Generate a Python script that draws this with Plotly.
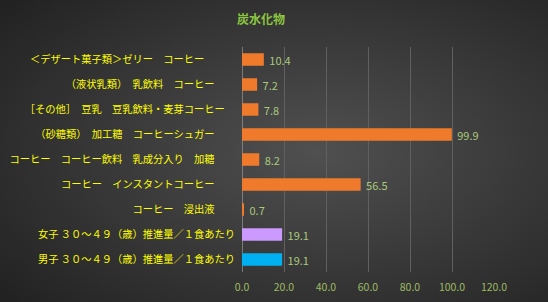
import base64
import plotly.graph_objects as go

categories = [
    "＜デザート菓子類＞ゼリー　コーヒー",
    "（液状乳類）　乳飲料　コーヒー",
    "［その他］　豆乳　豆乳飲料・麦芽コーヒー",
    "（砂糖類）　加工糖　コーヒーシュガー",
    "コーヒー　コーヒー飲料　乳成分入り　加糖",
    "コーヒー　インスタントコーヒー",
    "コーヒー　浸出液",
    "女子 ３０～４９（歳）推進量／１食あたり",
    "男子 ３０～４９（歳）推進量／１食あたり",
]
tick_labels = [
    "＜デザート菓子類＞ゼリー　コーヒー　　　",
    "（液状乳類）　乳飲料　コーヒー　　",
    "［その他］　豆乳　豆乳飲料・麦芽コーヒー　",
    "（砂糖類）　加工糖　コーヒーシュガー　　",
    "コーヒー　コーヒー飲料　乳成分入り　加糖　　",
    "コーヒー　インスタントコーヒー　　",
    "コーヒー　浸出液　　",
    "女子 ３０～４９（歳）推進量／１食あたり",
    "男子 ３０～４９（歳）推進量／１食あたり",
]
values = [10.4, 7.2, 7.8, 99.9, 8.2, 56.5, 0.7, 19.1, 19.1]
bar_colors = ["#f07a2c"] * 7 + ["#cc99ff", "#00b0f0"]
x_ticks = [0, 20, 40, 60, 80, 100, 120]

W, H = 548, 302
L, R, T, B = 242, 54, 47, 30
pw, ph = W - L - R, H - T - B

svg = (
    f'<svg xmlns="http://www.w3.org/2000/svg" width="{W}" height="{H}">'
    '<defs><radialGradient id="g" cx="58%" cy="50%" r="75%">'
    '<stop offset="0" stop-color="#505050"/><stop offset="1" stop-color="#222222"/>'
    '</radialGradient></defs><rect width="100%" height="100%" fill="url(#g)"/></svg>'
)
src = "data:image/svg+xml;base64," + base64.b64encode(svg.encode()).decode()

font_jp = "Noto Sans CJK JP"

fig = go.Figure(
    go.Bar(
        x=values,
        y=categories,
        orientation="h",
        marker=dict(color=bar_colors, line=dict(width=0)),
        text=values,
        texttemplate="\u00a0%{x:.1f}",
        textposition="outside",
        constraintext="none",
        textfont=dict(color="#a9c97c", size=11, family=font_jp),
        cliponaxis=False,
        width=0.5,
    )
)

fig.update_layout(
    width=W,
    height=H,
    margin=dict(l=L, r=R, t=T, b=B, autoexpand=False),
    paper_bgcolor="#383838",
    plot_bgcolor="rgba(0,0,0,0)",
    showlegend=False,
    title=dict(
        text="<b>炭水化物</b>",
        x=261 / W,
        xanchor="center",
        y=1 - 20 / H,
        yanchor="middle",
        font=dict(color="#8cc63f", size=12, family=font_jp),
    ),
    images=[
        dict(
            source=src,
            xref="paper",
            yref="paper",
            x=-L / pw,
            y=1 + T / ph,
            sizex=W / pw,
            sizey=H / ph,
            sizing="stretch",
            layer="below",
            xanchor="left",
            yanchor="top",
        )
    ],
    xaxis=dict(
        range=[0, 120],
        tickvals=x_ticks,
        tickformat=".1f",
        showgrid=True,
        gridcolor="#606060",
        gridwidth=1,
        zeroline=False,
        showline=False,
        ticks="",
        ticklabelstandoff=7,
        automargin=False,
        tickfont=dict(color="#9dbb61", size=10.5, family=font_jp),
        fixedrange=True,
    ),
    yaxis=dict(
        autorange="reversed",
        tickvals=categories,
        ticktext=tick_labels,
        showgrid=False,
        zeroline=False,
        showline=False,
        ticks="",
        ticklabelstandoff=6,
        automargin=False,
        tickfont=dict(color="#ffff00", size=10.25, family=font_jp),
        fixedrange=True,
    ),
    bargap=0.5,
    shapes=[
        dict(
            type="line",
            xref="x",
            yref="paper",
            x0=0,
            x1=0,
            y0=0,
            y1=1,
            line=dict(color="#b8b8b8", width=1),
            layer="below",
        )
    ],
)

fig.write_html("out.html")
